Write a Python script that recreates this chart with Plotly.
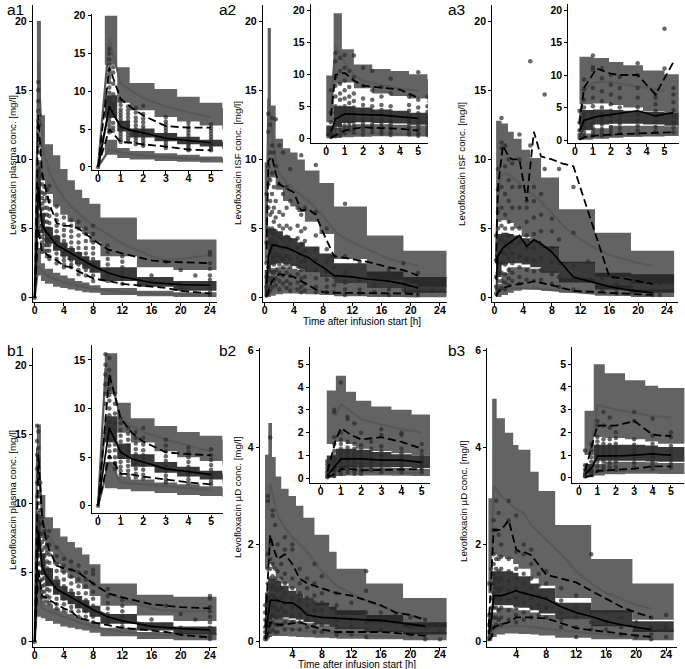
import plotly.graph_objects as go

W, H = 685, 669
FONT = "Liberation Sans, Arial, sans-serif"

# ---------------- a1 : plasma (study a) ----------------
a1_edges = [0.3, 0.85, 1.4, 2.5, 3.5, 4.5, 5.5, 6.5, 7.5, 9, 14, 19, 25]
a1_up_lo = [13.5, 8.5, 7.5, 6.6, 6.0, 5.5, 5.0, 4.6, 4.0, 3.0, 2.2, 2.0]
a1_up_hi = [20.0, 13.2, 11.1, 10.3, 9.3, 8.5, 7.8, 7.2, 6.8, 5.8, 4.2, 4.2]
a1_md_lo = [6.5, 4.7, 3.9, 3.4, 3.0, 2.7, 2.4, 2.1, 1.8, 1.2, 0.8, 0.5]
a1_md_hi = [9.5, 6.1, 5.1, 4.5, 4.0, 3.6, 3.3, 3.0, 2.7, 2.2, 1.5, 1.2]
a1_lw_lo = [1.6, 1.2, 1.0, 0.8, 0.7, 0.6, 0.5, 0.4, 0.35, 0.2, 0.1, 0.05]
a1_lw_hi = [3.6, 2.5, 2.1, 1.8, 1.6, 1.4, 1.2, 1.1, 0.9, 0.7, 0.5, 0.4]
a1_sim_t = [0, 0.5, 1, 1.5, 2, 3, 4, 5, 6, 8, 10, 12, 16, 18, 20, 24]
a1_sim_hi = [0, 17, 11, 10, 9.1, 8.0, 7.2, 6.6, 6.1, 5.2, 4.6, 3.9, 3.0, 2.7, 2.8, 3.1]
a1_sim_md = [0, 7.8, 5.4, 4.8, 4.4, 3.8, 3.4, 3.1, 2.8, 2.3, 1.8, 1.5, 1.1, 1.0, 0.9, 0.8]
a1_sim_lo = [0, 2.3, 1.9, 1.7, 1.5, 1.3, 1.1, 1.0, 0.85, 0.65, 0.5, 0.4, 0.3, 0.27, 0.25, 0.2]
a1_obs_t = [0, 0.5, 1, 1.5, 2, 3, 4, 5, 6, 8, 10, 12, 16, 18, 20, 24]
a1_obs_hi = [0, 13.2, 9.0, 7.8, 6.8, 5.4, 5.2, 5.2, 5.0, 4.2, 3.5, 3.2, 2.7, 2.6, 2.55, 2.5]
a1_obs_md = [0, 8.0, 5.3, 4.8, 4.5, 3.8, 3.5, 3.2, 2.9, 2.3, 1.8, 1.5, 1.1, 1.0, 0.95, 0.9]
a1_obs_lo = [0, 5.0, 3.3, 3.2, 3.0, 2.7, 2.3, 2.2, 1.9, 1.4, 1.2, 1.0, 0.8, 0.7, 0.5, 0.3]
a1_pt_t = [0, 0.5, 0.67, 1, 1.33, 1.67, 2, 3, 4, 5, 6, 7, 8, 10, 12, 16, 18, 20, 22, 24]
a1_pt_c = [
    [0],
    [15.6, 15, 14.2, 13.5, 12.8, 12.3, 11.8, 11.2, 10.5, 9.8, 9.2, 8.6, 8.0, 7.5, 7.0, 6.5, 6.0, 5.5, 5.0, 4.6],
    [13.2, 12.5, 11, 9.6, 8.2, 7.6, 6.8, 5.8, 5.2, 4.8],
    [8.8, 8.2, 7.6, 7.2, 6.8, 6.4, 6.0, 5.6, 5.2, 4.8, 4.4, 4.0, 3.6, 3.3],
    [8.0, 7.5, 7.0, 6.5, 6.0, 5.5, 5.0, 4.6, 4.2, 3.8, 3.4],
    [7.8, 7.2, 6.5, 6.0, 5.5, 5.0, 4.6, 4.2, 3.8, 3.4, 3.0],
    [8.1, 7.0, 6.4, 5.9, 5.4, 5.0, 4.6, 4.2, 3.8, 3.4, 3.0, 2.8],
    [6.6, 6.0, 5.6, 5.2, 4.8, 4.4, 4.0, 3.6, 3.2, 2.8, 2.5],
    [5.8, 5.3, 4.9, 4.5, 4.1, 3.7, 3.3, 3.0, 2.7, 2.4, 2.2],
    [5.6, 5.2, 4.8, 4.4, 4.0, 3.6, 3.3, 3.0, 2.7, 2.4, 2.2],
    [5.5, 5.0, 4.5, 4.0, 3.6, 3.2, 2.8, 2.4, 2.0, 1.7],
    [5.0, 4.6, 4.1, 3.6, 3.2, 2.8, 2.4, 2.0, 1.6],
    [5.2, 4.6, 4.0, 3.6, 3.2, 2.8, 2.4, 2.0, 1.6, 1.2],
    [3.8, 3.3, 2.8, 2.4, 2.0, 1.6, 1.2],
    [3.0, 2.6, 2.2, 1.8, 1.4, 1.0],
    [1.6, 1.2],
    [2.6],
    [2.0, 1.0, 0.6],
    [1.6],
    [3.3, 3.1, 2.5, 2.1, 1.6, 1.3, 1.0, 0.7, 0.4, 0.2],
]

# ---------------- a2 : ISF (study a, site 1) ----------------
a2_edges = [0, 0.4, 0.85, 1.5, 2.5, 3.5, 4.5, 5.5, 7.5, 9.5, 14, 19, 25]
a2_up_lo = [2.5, 8.5, 8.7, 7.8, 7.0, 6.6, 6.2, 5.5, 4.6, 2.8, 1.3, 0.8]
a2_up_hi = [9.8, 19.5, 13.9, 11.5, 10.8, 10.5, 10.0, 9.2, 8.3, 6.6, 4.5, 3.4]
a2_md_lo = [0.3, 1.8, 2.4, 2.5, 2.4, 2.3, 2.1, 1.8, 1.5, 1.0, 0.7, 0.35]
a2_md_hi = [2.0, 5.0, 5.0, 4.8, 4.5, 4.3, 4.0, 3.7, 3.2, 2.5, 1.9, 1.5]
a2_lw_lo = [0.0, 0.05, 0.15, 0.25, 0.3, 0.3, 0.28, 0.25, 0.2, 0.1, 0.05, 0.03]
a2_lw_hi = [0.8, 1.6, 2.0, 2.2, 2.2, 2.1, 2.0, 1.8, 1.5, 1.0, 0.7, 0.5]
a2_sim_t = [0.25, 0.5, 1, 1.5, 2, 3, 4, 5, 6, 8, 10, 12, 14, 17, 21]
a2_sim_hi = [5, 14.4, 11.8, 10, 9, 8.3, 7.8, 7.4, 7.0, 5.9, 4.6, 4.0, 3.5, 2.8, 2.3]
a2_sim_md = [0.6, 2.2, 3.3, 3.4, 3.4, 3.3, 3.1, 2.9, 2.7, 2.3, 1.9, 1.6, 1.4, 1.1, 0.9]
a2_sim_lo = [0.1, 0.4, 0.6, 0.7, 0.75, 0.75, 0.7, 0.65, 0.6, 0.45, 0.35, 0.28, 0.22, 0.15, 0.12]
a2_obs_t = [0.25, 0.5, 1, 1.5, 2, 3, 4, 5, 6, 7, 8, 9.5, 12, 14, 17, 19, 21]
a2_obs_hi = [3.5, 9.9, 10.2, 9.0, 8.2, 7.9, 7.6, 6.3, 6.4, 6.0, 4.7, 3.0, 2.8, 2.6, 2.2, 2.0, 1.6]
a2_obs_md = [1.0, 3.0, 3.8, 3.8, 3.7, 3.6, 3.4, 3.1, 2.9, 2.5, 2.2, 1.6, 1.5, 1.35, 1.2, 1.0, 0.7]
a2_obs_lo = [0.1, 0.5, 1.2, 1.5, 1.7, 1.6, 1.5, 1.2, 0.9, 0.6, 0.4, 0.35, 0.35, 0.35, 0.33, 0.3, 0.25]
a2_pt_t = [0.25, 0.5, 0.75, 1, 1.25, 1.5, 2, 2.5, 3, 3.5, 4.5, 5, 5.5, 7, 8.5, 9.5, 11, 13, 15, 17, 19, 21, 23]
a2_pt_c = [
    [0.2, 0.8, 1.5, 2.5, 4.0, 7.5],
    [13.3, 12.0, 9.5, 8.2, 6.5, 5.0, 4.0, 3.0, 2.2, 1.5, 0.8, 0.3],
    [12.5, 10.5, 8.5, 7.0, 6.0, 4.8, 4.0, 3.2, 2.5, 1.8, 1.2, 0.5],
    [13.0, 11.0, 9.0, 7.5, 6.2, 5.0, 4.2, 3.5, 2.8, 2.0, 1.4, 0.8],
    [10.5, 8.0, 6.5, 5.5, 4.6, 3.8, 3.0, 2.4, 1.8, 1.2],
    [12.9, 9.5, 7.0, 5.8, 4.8, 4.0, 3.2, 2.6, 2.0, 1.4, 0.9],
    [11.0, 8.2, 6.2, 5.2, 4.4, 3.7, 3.0, 2.4, 1.8, 1.2, 0.6],
    [10.5, 7.5, 6.0, 5.0, 4.2, 3.5, 2.8, 2.2, 1.6, 1.0],
    [8.0, 6.5, 5.2, 4.4, 3.7, 3.0, 2.4, 1.8, 1.2, 0.7],
    [9.3, 7.0, 5.0, 4.2, 3.5, 2.8, 2.2, 1.6, 1.0, 0.5],
    [6.5, 5.2, 4.3, 3.6, 2.9, 2.3, 1.7, 1.1, 0.6],
    [10.3, 6.0, 4.8, 3.9, 3.2, 2.6, 2.0, 1.4, 0.8, 0.4],
    [6.5, 5.0, 4.1, 3.4, 2.7, 2.1, 1.5, 1.0, 0.5],
    [9.6, 6.2, 4.5, 3.5, 2.7, 2.0, 1.4, 0.8, 0.4],
    [5.0, 3.5, 2.6, 1.9, 1.3, 0.8, 0.4],
    [3.0, 2.2, 1.5, 0.9, 0.4],
    [6.8, 3.0, 1.8, 1.1, 0.6, 0.2],
    [2.6, 1.3, 0.6, 0.3],
    [1.6, 0.9, 0.4],
    [2.0, 1.2, 0.6, 0.2],
    [2.5, 1.1, 0.6],
    [1.8, 1.0, 0.5, 0.2],
    [1.2, 0.5],
]

# ---------------- a3 : ISF (study a, site 2) ----------------
a3_edges = [0.25, 1, 1.9, 2.7, 3.8, 5, 6.5, 9, 14, 19, 25]
a3_up_lo = [5.5, 5.6, 5.4, 5.0, 4.4, 4.0, 3.6, 2.5, 1.5, 1.0]
a3_up_hi = [12.8, 12.6, 12.0, 11.5, 10.7, 10.1, 8.7, 6.4, 4.7, 3.4]
a3_md_lo = [1.5, 2.4, 2.5, 2.5, 2.4, 2.2, 1.8, 1.1, 0.6, 0.35]
a3_md_hi = [4.6, 4.7, 4.6, 4.5, 4.3, 4.1, 3.7, 2.6, 1.8, 1.7]
a3_lw_lo = [0.05, 0.2, 0.35, 0.5, 0.6, 0.6, 0.5, 0.35, 0.15, 0.05]
a3_lw_hi = [1.0, 1.8, 2.2, 2.2, 2.2, 2.1, 1.9, 1.4, 0.9, 0.6]
a3_sim_t = [0.25, 0.5, 1, 1.5, 2, 3, 4, 5, 6, 8, 10, 12, 14, 16, 18, 20, 22]
a3_sim_hi = [3, 7.5, 8.8, 9.0, 8.9, 8.5, 8.0, 7.6, 7.2, 6.1, 5.0, 4.2, 3.6, 3.1, 2.8, 2.5, 2.3]
a3_sim_md = [0.5, 2.0, 3.1, 3.3, 3.4, 3.4, 3.3, 3.1, 2.9, 2.5, 2.1, 1.7, 1.4, 1.2, 1.0, 0.9, 0.8]
a3_sim_lo = [0.1, 0.3, 0.5, 0.6, 0.65, 0.7, 0.7, 0.7, 0.65, 0.55, 0.45, 0.38, 0.3, 0.25, 0.2, 0.17, 0.15]
a3_obs_t = [0.25, 0.5, 1.2, 2, 2.5, 3.5, 4.5, 5.5, 6.5, 8, 9.5, 11, 16, 18, 22]
a3_obs_hi = [2.5, 8.0, 11.0, 10.2, 10.0, 10.0, 7.0, 12.0, 10.2, 10.0, 9.7, 9.5, 1.5, 1.4, 1.0]
a3_obs_md = [1.3, 3.0, 3.6, 3.9, 4.1, 4.5, 3.7, 4.2, 3.9, 3.3, 2.4, 1.5, 0.8, 0.6, 0.35]
a3_obs_lo = [0.1, 0.4, 0.7, 0.85, 0.9, 1.0, 1.05, 1.2, 1.1, 0.9, 0.7, 0.5, 0.35, 0.3, 0.2]
a3_pt_t = [0.25, 0.5, 1, 1.5, 2, 2.5, 3.5, 4.5, 5, 5.5, 6.5, 7, 8, 9, 11, 13, 15, 17, 19, 22, 23]
a3_pt_c = [
    [0.3, 0.8, 1.5, 2.7, 4.5],
    [9.3, 7.8, 6.2, 5.0, 4.0, 3.2, 2.5, 1.8, 1.2, 0.6],
    [13.0, 11.2, 10.8, 8.0, 6.5, 5.2, 4.2, 3.3, 2.5, 1.8, 1.2, 0.7],
    [11.0, 9.5, 7.5, 6.0, 5.0, 4.0, 3.2, 2.4, 1.7, 1.1, 0.6],
    [10.0, 8.5, 7.0, 5.5, 4.5, 3.6, 2.8, 2.0, 1.4, 0.9],
    [9.7, 8.0, 6.5, 5.0, 4.0, 3.2, 2.5, 1.8, 1.2],
    [11.8, 10.0, 8.0, 6.5, 5.0, 4.0, 3.0, 2.2, 1.5, 1.0],
    [7.0, 6.5, 5.5, 4.5, 3.6, 2.8, 2.0, 1.3],
    [17.1, 11.0],
    [8.0, 7.0, 5.8, 4.6, 3.6, 2.7, 1.9, 1.2],
    [7.5, 6.0, 4.8, 3.8, 2.9, 2.0, 1.3],
    [14.7, 9.3],
    [5.7, 4.8, 3.6, 2.6, 1.7, 1.0],
    [9.3, 4.2, 2.5, 1.5, 0.8],
    [8.0, 4.7, 2.3, 1.3, 0.6],
    [2.6, 1.2],
    [1.4, 0.5],
    [1.0, 0.6, 0.3],
    [0.8, 0.4],
    [1.0, 0.5, 0.2],
    [1.0, 0.2],
]

# ---------------- b1 : plasma (study b) ----------------
b1_edges = [0.3, 0.85, 1.45, 2.5, 3.5, 4.5, 5.5, 6.5, 7.5, 9, 14, 19, 25]
b1_up_lo = [11.5, 7.5, 6.5, 5.6, 5.0, 4.6, 4.2, 3.8, 3.3, 2.6, 1.9, 1.5]
b1_up_hi = [15.7, 10.6, 9.0, 8.2, 7.6, 7.2, 6.8, 6.3, 5.6, 4.2, 3.4, 3.25]
b1_md_lo = [6.5, 4.8, 4.0, 3.4, 3.0, 2.7, 2.4, 2.1, 1.8, 1.3, 0.8, 0.5]
b1_md_hi = [9.2, 6.4, 5.3, 4.5, 4.0, 3.6, 3.3, 3.0, 2.6, 2.0, 1.4, 1.1]
b1_lw_lo = [1.8, 1.7, 1.5, 1.3, 1.1, 1.0, 0.9, 0.8, 0.65, 0.4, 0.2, 0.1]
b1_lw_hi = [4.5, 3.0, 2.7, 2.4, 2.2, 2.0, 1.8, 1.6, 1.4, 1.0, 0.7, 0.6]
b1_sim_t = [0, 0.33, 0.5, 1, 1.5, 2, 3, 4, 5, 6, 8, 10, 12, 14, 17, 20, 24]
b1_sim_hi = [0, 14, 13.8, 9.0, 8.2, 7.6, 6.8, 6.2, 5.6, 5.0, 4.2, 3.5, 3.1, 2.7, 2.3, 2.2, 2.2]
b1_sim_md = [0, 8.5, 8.5, 5.5, 5.0, 4.6, 4.0, 3.6, 3.3, 2.9, 2.4, 1.9, 1.6, 1.4, 1.1, 0.95, 0.85]
b1_sim_lo = [0, 3.0, 4.5, 2.4, 2.3, 2.2, 2.0, 1.8, 1.6, 1.4, 1.1, 0.85, 0.7, 0.6, 0.5, 0.48, 0.45]
b1_obs_t = [0, 0.5, 1, 1.5, 2, 3, 4, 5, 6, 7, 8, 10, 12, 16, 18, 20, 24]
b1_obs_hi = [0, 13.5, 9.0, 7.5, 6.6, 5.5, 5.3, 5.2, 5.0, 4.6, 4.2, 3.5, 3.2, 2.7, 2.6, 2.5, 2.4]
b1_obs_md = [0, 8.0, 5.5, 4.8, 4.5, 3.8, 3.5, 3.2, 2.9, 2.6, 2.3, 1.8, 1.5, 1.1, 1.0, 0.95, 0.85]
b1_obs_lo = [0, 5.2, 3.3, 3.2, 3.0, 2.7, 2.4, 2.2, 1.7, 1.6, 1.4, 1.2, 1.0, 0.8, 0.7, 0.5, 0.3]
b1_pt_t = [0, 0.33, 0.5, 0.75, 1, 1.33, 1.67, 2, 3, 4, 5, 6, 7, 8, 10, 12, 16, 18, 20, 22, 24]
b1_pt_c = [
    [0],
    [15.6, 14.5, 13.5, 12.5, 11.5, 10.5],
    [15.2, 14.0, 13.2, 12.6, 12.0, 11.4, 10.8, 10.0, 9.3, 8.6, 8.0, 7.4, 6.8, 6.2, 5.6, 5.0],
    [11.5, 10.5, 9.5, 8.5, 7.8, 7.0, 6.3, 5.7, 5.0, 4.4, 3.8],
    [9.0, 8.5, 7.8, 7.2, 6.6, 6.0, 5.5, 5.0, 4.5, 4.0, 3.6, 3.2],
    [8.0, 7.4, 6.8, 6.2, 5.6, 5.1, 4.6, 4.1, 3.6, 3.2],
    [7.6, 7.0, 6.4, 5.8, 5.3, 4.8, 4.3, 3.8, 3.3, 2.9],
    [8.0, 7.0, 6.3, 5.7, 5.2, 4.7, 4.2, 3.7, 3.2, 2.8],
    [6.8, 6.2, 5.6, 5.1, 4.6, 4.1, 3.6, 3.1, 2.7, 2.4],
    [6.0, 5.5, 5.0, 4.5, 4.0, 3.5, 3.1, 2.7, 2.3],
    [5.8, 5.2, 4.7, 4.2, 3.7, 3.3, 2.9, 2.5, 2.2],
    [5.5, 5.0, 4.5, 4.0, 3.5, 3.0, 2.6, 2.2, 1.8],
    [5.0, 4.5, 4.0, 3.5, 3.0, 2.6, 2.2, 1.8],
    [5.2, 4.9, 4.2, 3.6, 3.1, 2.6, 2.2, 1.8, 1.4],
    [3.8, 3.3, 2.8, 2.4, 2.0, 1.6, 1.3],
    [3.0, 2.6, 2.2, 1.8, 1.4, 1.1],
    [1.6, 1.2],
    [2.6],
    [2.0, 1.0, 0.6],
    [1.6],
    [3.3, 3.1, 2.5, 2.2, 1.8, 1.4, 1.0, 0.7, 0.4, 0.2],
]

# ---------------- b2 : microdialysate (study b, site 1) ----------------
b2_edges = [0.3, 0.75, 1.25, 1.75, 2.5, 3.5, 4.5, 5.5, 7, 9, 10, 14, 19, 25]
b2_up_lo = [1.5, 1.6, 1.5, 1.3, 1.2, 1.1, 1.0, 0.9, 0.75, 0.65, 0.55, 0.4, 0.3]
b2_up_hi = [3.85, 4.5, 3.8, 3.4, 3.15, 3.0, 2.8, 2.55, 2.2, 1.85, 1.5, 1.2, 0.9]
b2_md_lo = [0.3, 0.45, 0.5, 0.5, 0.5, 0.48, 0.45, 0.4, 0.35, 0.3, 0.26, 0.2, 0.15]
b2_md_hi = [1.0, 1.3, 1.3, 1.25, 1.15, 1.05, 1.0, 0.9, 0.8, 0.72, 0.65, 0.55, 0.4]
b2_lw_lo = [0.02, 0.1, 0.12, 0.12, 0.12, 0.11, 0.1, 0.09, 0.08, 0.07, 0.06, 0.05, 0.03]
b2_lw_hi = [0.4, 0.55, 0.55, 0.5, 0.48, 0.45, 0.42, 0.38, 0.34, 0.3, 0.27, 0.22, 0.2]
b2_sim_t = [0.75, 1, 2, 3, 4, 5, 6, 8, 10, 12, 14, 16, 18, 20, 22]
b2_sim_hi = [2.7, 3.25, 2.6, 2.35, 2.15, 2.0, 1.85, 1.45, 1.15, 1.0, 0.85, 0.72, 0.62, 0.55, 0.48]
b2_sim_md = [0.3, 0.7, 0.75, 0.72, 0.68, 0.64, 0.6, 0.52, 0.45, 0.4, 0.35, 0.3, 0.27, 0.24, 0.22]
b2_sim_lo = [0.15, 0.3, 0.3, 0.28, 0.26, 0.24, 0.22, 0.2, 0.17, 0.15, 0.13, 0.12, 0.1, 0.09, 0.08]
b2_obs_t = [0.33, 0.75, 1, 1.5, 2, 3, 4, 5, 6, 8, 10, 12, 14, 16, 18, 20, 22]
b2_obs_hi = [0.3, 1.7, 2.2, 1.9, 1.7, 1.8, 1.6, 1.3, 1.2, 1.1, 1.0, 0.95, 0.85, 0.75, 0.6, 0.55, 0.45]
b2_obs_md = [0.1, 0.6, 0.85, 0.85, 0.85, 0.8, 0.8, 0.7, 0.55, 0.5, 0.48, 0.46, 0.45, 0.44, 0.4, 0.35, 0.32]
b2_obs_lo = [0.05, 0.2, 0.4, 0.4, 0.35, 0.35, 0.38, 0.4, 0.35, 0.25, 0.2, 0.2, 0.2, 0.2, 0.18, 0.15, 0.12]
b2_pt_t = [0.33, 0.67, 1, 1.33, 1.67, 2, 2.5, 3, 4, 5, 6, 7, 8, 10, 12, 14, 16, 18, 20, 22, 24]
b2_pt_c = [
    [0.05, 0.1, 0.2, 0.3, 0.45, 0.6, 0.75],
    [3.0, 2.9, 1.8, 1.5, 1.2, 1.0, 0.8, 0.6, 0.4, 0.25, 0.1],
    [4.2, 2.0, 1.7, 1.5, 1.3, 1.1, 0.9, 0.7, 0.5, 0.35, 0.2],
    [2.7, 2.6, 1.6, 1.35, 1.15, 0.95, 0.75, 0.55, 0.4, 0.25],
    [2.4, 1.5, 1.3, 1.1, 0.9, 0.7, 0.5, 0.35, 0.2],
    [2.0, 1.45, 1.25, 1.05, 0.85, 0.65, 0.5, 0.35, 0.2],
    [1.6, 1.3, 1.1, 0.9, 0.7, 0.5, 0.35],
    [2.15, 1.9, 1.4, 1.2, 1.0, 0.8, 0.6, 0.4, 0.25],
    [2.0, 1.9, 1.3, 1.1, 0.9, 0.7, 0.55, 0.4, 0.25],
    [1.5, 1.2, 1.0, 0.85, 0.7, 0.55, 0.4, 0.25],
    [1.3, 1.1, 0.9, 0.75, 0.6, 0.45, 0.3],
    [1.6, 1.2, 0.95, 0.8, 0.65, 0.5, 0.35, 0.2],
    [1.35, 1.0, 0.8, 0.65, 0.5, 0.35, 0.2],
    [1.0, 0.75, 0.6, 0.45, 0.3, 0.15],
    [0.8, 0.6, 0.45, 0.3, 0.15],
    [1.45, 1.05, 0.6, 0.4, 0.25, 0.1],
    [0.6, 0.4, 0.25],
    [0.55, 0.4, 0.2],
    [0.5, 0.3, 0.15],
    [0.45, 0.3, 0.15, 0.05],
    [0.35, 0.2, 0.05],
]

# ---------------- b3 : microdialysate (study b, site 2) ----------------
b3_edges = [0.3, 0.8, 1.4, 2.5, 3.6, 4.3, 5.9, 7, 9.2, 14, 19.5, 25]
b3_up_lo = [1.0, 1.8, 1.75, 1.7, 1.6, 1.5, 1.3, 1.15, 0.9, 0.6, 0.45]
b3_up_hi = [2.95, 5.0, 4.6, 4.3, 4.05, 3.95, 3.5, 3.1, 2.4, 1.7, 1.2]
b3_md_lo = [0.2, 0.75, 0.75, 0.75, 0.72, 0.7, 0.65, 0.58, 0.45, 0.32, 0.2]
b3_md_hi = [0.6, 1.45, 1.45, 1.45, 1.42, 1.35, 1.2, 1.1, 0.8, 0.65, 0.42]
b3_lw_lo = [0.02, 0.1, 0.15, 0.17, 0.17, 0.16, 0.15, 0.13, 0.08, 0.05, 0.03]
b3_lw_hi = [0.35, 0.6, 0.7, 0.7, 0.68, 0.65, 0.6, 0.55, 0.45, 0.35, 0.25]
b3_sim_t = [0.75, 1, 2, 3, 4, 5, 6, 8, 10, 12, 14, 16, 18, 20, 22]
b3_sim_hi = [1.8, 3.2, 3.0, 2.85, 2.72, 2.65, 2.4, 2.1, 1.8, 1.45, 1.2, 1.0, 0.88, 0.76, 0.68]
b3_sim_md = [0.6, 0.95, 1.0, 1.02, 1.03, 1.0, 0.97, 0.9, 0.75, 0.6, 0.5, 0.42, 0.35, 0.3, 0.25]
b3_sim_lo = [0.1, 0.25, 0.3, 0.32, 0.33, 0.32, 0.3, 0.27, 0.23, 0.2, 0.17, 0.14, 0.12, 0.1, 0.09]
b3_obs_t = [0.33, 0.75, 1, 1.5, 2, 2.5, 3, 4, 4.5, 5, 6, 8, 10, 12, 14, 16, 18, 20, 22]
b3_obs_hi = [0.3, 1.5, 2.3, 2.3, 2.3, 2.4, 2.5, 1.9, 1.85, 1.85, 1.78, 1.38, 1.3, 1.22, 1.05, 0.88, 0.72, 0.6, 0.5]
b3_obs_md = [0.15, 0.5, 0.95, 0.95, 0.95, 0.97, 1.0, 1.05, 1.02, 1.0, 0.95, 0.88, 0.72, 0.6, 0.52, 0.42, 0.35, 0.3, 0.25]
b3_obs_lo = [0.03, 0.1, 0.3, 0.32, 0.35, 0.38, 0.4, 0.5, 0.5, 0.5, 0.5, 0.48, 0.38, 0.28, 0.24, 0.2, 0.16, 0.13, 0.1]
b3_pt_t = [0.33, 0.67, 1, 1.33, 1.67, 2, 3, 4, 5, 6, 7, 8, 10, 12, 14, 16, 18, 20, 22, 24]
b3_pt_c = [
    [0.05, 0.1, 0.2, 0.35, 0.55, 1.2],
    [1.5, 1.2, 0.9, 0.7, 0.5, 0.3, 0.15],
    [2.5, 2.3, 1.8, 1.6, 1.4, 1.2, 1.0, 0.85, 0.7, 0.5, 0.3],
    [2.9, 2.3, 1.7, 1.5, 1.3, 1.1, 0.9, 0.7, 0.5, 0.35],
    [2.65, 2.2, 1.7, 1.45, 1.25, 1.05, 0.85, 0.65, 0.45],
    [2.0, 1.75, 1.5, 1.3, 1.1, 0.9, 0.7, 0.5, 0.35],
    [2.9, 2.5, 1.7, 1.45, 1.25, 1.05, 0.85, 0.65, 0.45],
    [2.6, 1.85, 1.5, 1.3, 1.1, 0.9, 0.7, 0.55, 0.4],
    [2.0, 1.8, 1.4, 1.2, 1.0, 0.8, 0.6, 0.45],
    [1.9, 1.6, 1.3, 1.1, 0.9, 0.7, 0.5],
    [1.4, 1.15, 0.95, 0.75, 0.55],
    [1.45, 1.2, 0.9, 0.7, 0.5],
    [1.1, 0.85, 0.6, 0.45, 0.3],
    [0.95, 0.7, 0.5, 0.3, 0.1],
    [1.8, 0.6, 0.4, 0.25],
    [0.6, 0.4, 0.25],
    [0.5, 0.3, 0.15],
    [0.4, 0.25, 0.1],
    [0.5, 0.3, 0.15, 0.05],
    [0.55, 0.3, 0.1],
]

# ---------------- text ----------------
panel_labels = ["a1", "a2", "a3", "b1", "b2", "b3"]
y_titles = ["Levofloxacin plasma conc. [mg/l]", "Levofloxacin ISF conc. [mg/l]",
            "Levofloxacin ISF conc. [mg/l]", "Levofloxacin plasma conc. [mg/l]",
            "Levofloxacin \u00b5D conc. [mg/l]", "Levofloxacin \u00b5D conc. [mg/l]"]
x_title = "Time after infusion start [h]"
main_xticks_ab = [0, 4, 8, 12, 16, 20, 24]
main_xticks_ud = [4, 8, 12, 16, 20, 24]
inset_xticks = [0, 1, 2, 3, 4, 5]
yticks_20 = [0, 5, 10, 15, 20]
yticks_15 = [0, 5, 10, 15]
yticks_6 = [0, 2, 4, 6]
yticks_5 = [0, 1, 2, 3, 4, 5]

G = globals()

def pdata(p):
    return {k: G[p + "_" + k] for k in ["edges", "up_lo", "up_hi", "md_lo", "md_hi", "lw_lo", "lw_hi",
                                         "sim_t", "sim_hi", "sim_md", "sim_lo",
                                         "obs_t", "obs_hi", "obs_md", "obs_lo", "pt_t", "pt_c"]}

# geometry (pixel boxes: left, right, top, bottom) and ranges
layout_spec = {
    "a1": dict(main=dict(box=(32.9, 216.5, 4.5, 301.85), xr=[-0.25, 24.9], yr=[-0.3, 21.2], xt=main_xticks_ab, yt=yticks_20),
               ins=dict(box=(91.7, 223.0, 14.2, 170.0), xr=[-0.28, 5.53], yr=[-0.4, 20.2], xt=inset_xticks, yt=yticks_20),
               tmax=5.0),
    "a2": dict(main=dict(box=(262.9, 446.5, 4.5, 301.85), xr=[-0.25, 24.9], yr=[-0.3, 21.2], xt=main_xticks_ab, yt=yticks_20),
               ins=dict(box=(311.0, 428.0, 3.6, 143.3), xr=[-0.83, 5.53], yr=[-0.78, 21.0], xt=inset_xticks, yt=yticks_20),
               tmax=5.5),
    "a3": dict(main=dict(box=(492.3, 677.7, 4.5, 301.85), xr=[-0.28, 25.5], yr=[-0.3, 21.2], xt=main_xticks_ab, yt=yticks_20),
               ins=dict(box=(568.4, 678.8, 3.5, 143.25), xr=[-0.37, 5.8], yr=[-0.5, 21.0], xt=inset_xticks, yt=yticks_20),
               tmax=5.5),
    "b1": dict(main=dict(box=(32.9, 216.5, 348.4, 647.2), xr=[-0.25, 24.9], yr=[-0.4, 21.2], xt=main_xticks_ab, yt=yticks_20),
               ins=dict(box=(91.7, 222.8, 345.4, 513.3), xr=[-0.28, 5.52], yr=[-0.78, 16.5], xt=inset_xticks, yt=yticks_15),
               tmax=5.0),
    "b2": dict(main=dict(box=(260.0, 446.6, 348.2, 646.6), xr=[-0.38, 24.9], yr=[-0.1, 6.04], xt=main_xticks_ud, yt=yticks_6),
               ins=dict(box=(310.0, 430.0, 346.7, 483.3), xr=[-0.53, 5.41], yr=[-0.22, 5.77], xt=inset_xticks, yt=yticks_5),
               tmax=5.0),
    "b3": dict(main=dict(box=(487.3, 676.7, 348.2, 646.6), xr=[0.15, 25.4], yr=[-0.1, 6.04], xt=main_xticks_ud, yt=yticks_6),
               ins=dict(box=(572.4, 684.4, 346.6, 483.4), xr=[-0.36, 5.73], yr=[-0.25, 5.78], xt=inset_xticks, yt=yticks_5),
               tmax=5.0),
}

OUTER = "rgba(60,60,60,0.8)"
MEDIAN = "rgba(35,35,35,0.9)"
SIMLINE = "rgb(88,88,88)"
PT = "rgba(45,45,45,0.72)"

fig = go.Figure()
layout = dict(width=W, height=H, margin=dict(l=0, r=0, t=0, b=0, autoexpand=False), showlegend=False,
              paper_bgcolor="white", plot_bgcolor="white", font=dict(family=FONT, color="black"))

def band(edges, lo, hi, color, xa, ya):
    xs, ys = [], []
    for i in range(len(lo)):
        x0, x1 = edges[i], edges[i + 1]
        xs += [x0, x1, x1, x0, x0, None]
        ys += [lo[i], lo[i], hi[i], hi[i], lo[i], None]
    fig.add_trace(go.Scatter(x=xs, y=ys, mode="lines", fill="toself", fillcolor=color,
                             line=dict(width=0), hoverinfo="skip", xaxis=xa, yaxis=ya))

def line(t, v, xa, ya, color, width, dash="solid", tmax=None):
    if tmax is not None:
        pairs = [(a, b) for a, b in zip(t, v) if a <= tmax + 1e-9]
        t = [p[0] for p in pairs]
        v = [p[1] for p in pairs]
    fig.add_trace(go.Scatter(x=t, y=v, mode="lines", line=dict(color=color, width=width, dash=dash),
                             hoverinfo="skip", xaxis=xa, yaxis=ya))

def axis_common(ticks, rng, dom, anchor, standoff=0):
    return dict(range=rng, domain=dom, anchor=anchor, tickvals=ticks, ticktext=[str(v) for v in ticks],
                showgrid=False, zeroline=False, showline=True, linecolor="black", linewidth=1.4,
                ticks="outside", ticklen=3, tickwidth=1.2, tickcolor="black", ticklabelstandoff=standoff,
                automargin=False,
                tickfont=dict(family=FONT, size=10.5, color="black", weight="bold"), fixedrange=True)

n = 0
for p in panel_labels:
    d = pdata(p)
    spec = layout_spec[p]
    for kind in ["main", "ins"]:
        n += 1
        s = spec[kind]
        xa = "x" if n == 1 else f"x{n}"
        ya = "y" if n == 1 else f"y{n}"
        l, r, t, b = s["box"]
        xdom = [l / W, r / W]
        ydom = [1 - b / H, 1 - t / H]
        layout["xaxis" if n == 1 else f"xaxis{n}"] = axis_common(s["xt"], s["xr"], xdom, ya, -5)
        layout["yaxis" if n == 1 else f"yaxis{n}"] = axis_common(s["yt"], s["yr"], ydom, xa)
        tmax = None if kind == "main" else spec["tmax"]
        band(d["edges"], d["up_lo"], d["up_hi"], OUTER, xa, ya)
        band(d["edges"], d["lw_lo"], d["lw_hi"], OUTER, xa, ya)
        band(d["edges"], d["md_lo"], d["md_hi"], MEDIAN, xa, ya)
        line(d["sim_t"], d["sim_hi"], xa, ya, SIMLINE, 2.2, tmax=tmax)
        line(d["sim_t"], d["sim_lo"], xa, ya, SIMLINE, 2.2, tmax=tmax)
        line(d["sim_t"], d["sim_md"], xa, ya, "rgb(60,60,60)", 2.0, tmax=tmax)
        px = [tt for tt, cs in zip(d["pt_t"], d["pt_c"]) for c in cs]
        py = [c for tt, cs in zip(d["pt_t"], d["pt_c"]) for c in cs]
        fig.add_trace(go.Scatter(x=px, y=py, mode="markers", marker=dict(color=PT, size=4.5, line=dict(width=0)),
                                 hoverinfo="skip", xaxis=xa, yaxis=ya))
        line(d["obs_t"], d["obs_md"], xa, ya, "black", 1.7, tmax=tmax)
        line(d["obs_t"], d["obs_hi"], xa, ya, "black", 1.8, dash="8px,4px", tmax=tmax)
        line(d["obs_t"], d["obs_lo"], xa, ya, "black", 1.8, dash="8px,4px", tmax=tmax)

annotations = []
label_pos = {"a1": (16, 9), "a2": (227, 9), "a3": (456, 9),
             "b1": (16, 350), "b2": (227, 350), "b3": (456, 350)}
for p in panel_labels:
    x, y = label_pos[p]
    annotations.append(dict(x=x / W, y=1 - y / H, xref="paper", yref="paper", text=p, showarrow=False,
                            font=dict(family=FONT, size=15.5, color="black"), xanchor="center", yanchor="middle"))
ytitle_pos = {"a1": (12, 165), "a2": (237, 163), "a3": (462, 164),
              "b1": (12, 500), "b2": (237, 498), "b3": (463, 502)}
for p, txt in zip(panel_labels, y_titles):
    x, y = ytitle_pos[p]
    annotations.append(dict(x=x / W, y=1 - y / H, xref="paper", yref="paper", text=txt, textangle=-90,
                            showarrow=False, font=dict(family=FONT, size=9.7, color="black"),
                            xanchor="center", yanchor="middle"))
for (x, y) in [(361.7, 321), (357, 664)]:
    annotations.append(dict(x=x / W, y=1 - y / H, xref="paper", yref="paper", text=x_title, showarrow=False,
                            font=dict(family=FONT, size=10, color="black"), xanchor="center", yanchor="middle"))
layout["annotations"] = annotations

fig.update_layout(**layout)
fig.write_html("out.html", config={"displayModeBar": False},
               post_script="document.body.style.margin='0';document.body.style.overflow='hidden';")
